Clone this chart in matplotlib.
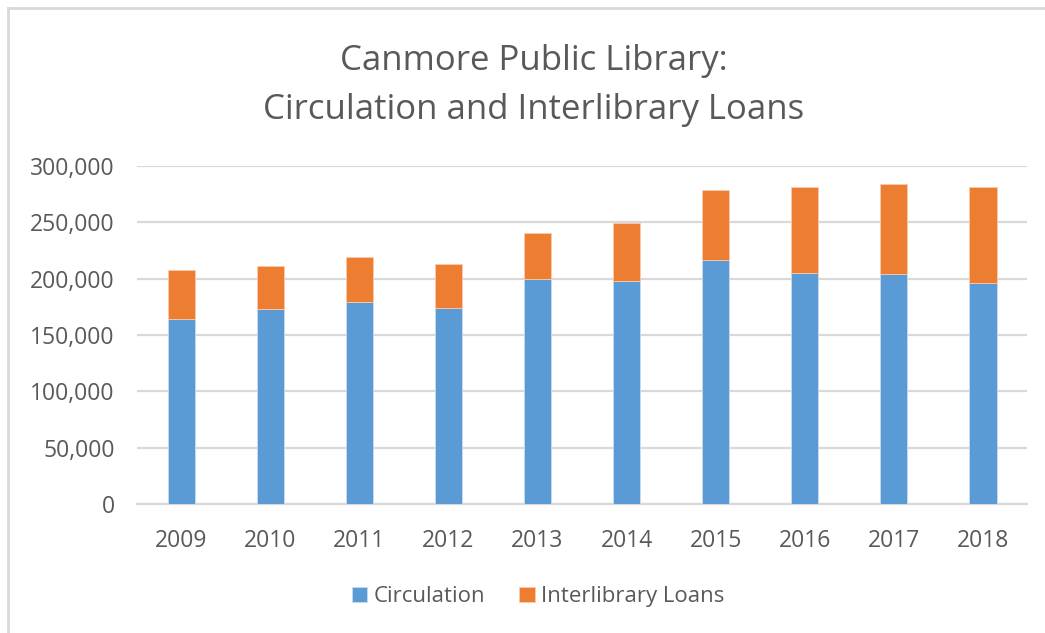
import matplotlib.pyplot as plt
from matplotlib.lines import Line2D
from matplotlib.ticker import FuncFormatter
import numpy as np

# Data
years = ['2009', '2010', '2011', '2012', '2013', '2014', '2015', '2016', '2017', '2018']
circulation = [164000, 172900, 179100, 174300, 199400, 198000, 216700, 205100, 204200, 196400]
interlibrary = [44000, 38700, 39900, 38800, 41000, 51400, 62400, 76400, 79900, 85100]

plt.rcParams['font.family'] = ['Open Sans', 'DejaVu Sans']
text_color = '#595959'
grid_color = '#d9d9d9'

fig = plt.figure(figsize=(10.45, 6.33), dpi=100)
ax = fig.add_axes([0.131, 0.2038, 0.852, 0.534])

x = np.arange(len(years))
width = 0.31
ax.bar(x, circulation, width, color='#5b9bd5', label='Circulation', zorder=3,
       edgecolor='#c9dcf0', linewidth=0.6)
ax.bar(x, interlibrary, width, bottom=circulation, color='#ed7d31',
       label='Interlibrary Loans', zorder=3, edgecolor='#f8cbad', linewidth=0.6)

ax.set_xlim(-0.5, len(years) - 0.5)
ax.set_ylim(0, 300000)
ax.set_yticks(np.arange(0, 300001, 50000))
ax.yaxis.set_major_formatter(FuncFormatter(lambda v, p: f'{int(v):,}'))
ax.set_xticks(x)
ax.set_xticklabels(years)

ax.grid(axis='y', color=grid_color, linewidth=1.6, zorder=0)
for s in ['top', 'right', 'left']:
    ax.spines[s].set_visible(False)
ax.spines['bottom'].set_color(grid_color)
ax.spines['bottom'].set_linewidth(1.6)
ax.tick_params(axis='both', length=0, labelsize=16.5, colors=text_color)
ax.tick_params(axis='y', pad=16)
ax.tick_params(axis='x', pad=18)

fig.suptitle('Canmore Public Library:\nCirculation and Interlibrary Loans',
             x=0.511, y=0.93, fontsize=25, color=text_color, linespacing=1.55)

leg = fig.legend(loc='center', bbox_to_anchor=(0.515, 0.057), ncol=2, frameon=False,
                 fontsize=16, handlelength=0.7, handleheight=0.7, handletextpad=0.3,
                 columnspacing=1.5)
for t in leg.get_texts():
    t.set_color(text_color)

# chart frame edges visible in the screenshot
fig.add_artist(Line2D([0.008, 0.008], [0, 0.988], transform=fig.transFigure,
                      color='#d9d9d9', linewidth=2))
fig.add_artist(Line2D([0.008, 1], [0.988, 0.988], transform=fig.transFigure,
                      color='#d9d9d9', linewidth=2))

fig.savefig('out.png', dpi=100, facecolor='white')
